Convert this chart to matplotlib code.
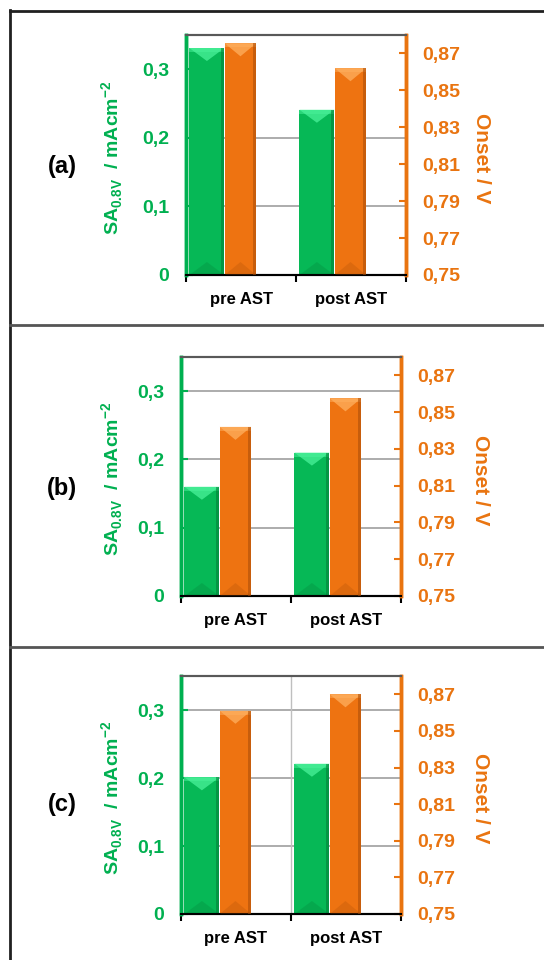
import matplotlib
matplotlib.use("Agg")
import matplotlib.pyplot as plt
from matplotlib.patches import Polygon
from matplotlib.lines import Line2D

plt.rcParams['font.family'] = ['Liberation Sans', 'DejaVu Sans']
plt.rcParams['font.weight'] = 'bold'
plt.rcParams['axes.labelweight'] = 'bold'
plt.rcParams['mathtext.fontset'] = 'custom'
plt.rcParams['mathtext.rm'] = 'Liberation Sans:bold'
plt.rcParams['mathtext.bf'] = 'Liberation Sans:bold'

# data
categories = ['pre AST', 'post AST']
panel_names = ['(a)', '(b)', '(c)']
sa_values = [[0.331, 0.241], [0.160, 0.210], [0.201, 0.221]]      # mA cm-2
onset_values = [[0.8755, 0.862], [0.842, 0.8575], [0.861, 0.870]]  # V
sa_ticks = [0, 0.1, 0.2, 0.3]
sa_ticklabels = ['0', '0,1', '0,2', '0,3']
onset_ticks = [0.75, 0.77, 0.79, 0.81, 0.83, 0.85, 0.87]
onset_ticklabels = ['0,75', '0,77', '0,79', '0,81', '0,83', '0,85', '0,87']
grid_levels = [[0.1, 0.2], [0.1, 0.2, 0.3], [0.1, 0.2, 0.3]]
vgrid = [False, False, True]

GREEN = '#00B050'
ORANGE = '#E97410'
green_bar = ('#06B856', '#4AF29A', '#037A36')
orange_bar = ('#EE7311', '#FFB060', '#A84C08')

W, H = 544, 960
fig = plt.figure(figsize=(W / 100, H / 100), dpi=100)

# panel frames (pixels): left, top, right, bottom of the plot area
frames = [(186, 35, 406, 275), (181, 357, 401, 596), (181, 676, 401, 914)]
label_y = [167, 489, 805]


def bevel(ax, bars, colors, ylim, hpx):
    # fake Excel's bevelled bar look: light chevron at top, dark strip at right
    main, light, dark = colors
    d = 13 * (ylim[1] - ylim[0]) / hpx
    for b in bars:
        x0, y0 = b.get_x(), b.get_y()
        w, h = b.get_width(), b.get_height()
        top = y0 + h
        ax.add_patch(Polygon([(x0, top), (x0 + w, top), (x0 + 0.5 * w, top - d)],
                             closed=True, facecolor=light, edgecolor='none',
                             alpha=0.75, zorder=3))
        ax.add_patch(Polygon([(x0, top), (x0 + w, top), (x0 + w, top - 0.3 * d),
                              (x0, top - 0.3 * d)], closed=True,
                             facecolor=light, edgecolor='none', alpha=0.5, zorder=3))
        ax.add_patch(Polygon([(x0, y0), (x0 + w, y0), (x0 + 0.5 * w, y0 + d)],
                             closed=True, facecolor=dark, edgecolor='none',
                             alpha=0.25, zorder=3))
        ax.add_patch(Polygon([(x0 + 0.9 * w, y0), (x0 + w, y0), (x0 + w, top),
                              (x0 + 0.9 * w, top)], closed=True,
                             facecolor=dark, edgecolor='none', alpha=0.55, zorder=3))


x = [0, 1]
for i, (l, t, r, b) in enumerate(frames):
    ax = fig.add_axes([l / W, 1 - b / H, (r - l) / W, (b - t) / H])
    ax2 = ax.twinx()
    ax.set_xlim(-0.5, 1.5)
    ax.set_ylim(0, 0.35)
    ax2.set_ylim(0.75, 0.88)

    for g in grid_levels[i]:
        ax.axhline(g, color='#A6A6A6', lw=1.3, zorder=0)
    if vgrid[i]:
        ax.axvline(0.5, color='#BFBFBF', lw=1.0, zorder=0)

    gb = ax.bar([xi - 0.31 for xi in x], sa_values[i], width=0.318,
                color=green_bar[0], zorder=2)
    bevel(ax, gb, green_bar, (0, 0.35), b - t)
    ob = ax2.bar([xi - 0.005 for xi in x], [v - 0.75 for v in onset_values[i]],
                 width=0.285, bottom=0.75, color=orange_bar[0], zorder=2)
    bevel(ax2, ob, orange_bar, (0.75, 0.88), b - t)

    ax.set_yticks(sa_ticks)
    ax.set_yticklabels(sa_ticklabels)
    ax.tick_params(axis='y', direction='in', length=5, width=1.5, color=GREEN,
                   labelcolor=GREEN, labelsize=14, pad=12)
    ax2.set_yticks(onset_ticks)
    ax2.set_yticklabels(onset_ticklabels)
    ax2.tick_params(axis='y', direction='in', length=5, width=1.5, color=ORANGE,
                    labelcolor=ORANGE, labelsize=14, pad=12)

    ax.set_xticks([-0.5, 0.5, 1.5])
    ax.set_xticklabels([])
    ax.set_xticks(x, minor=True)
    ax.set_xticklabels(categories, minor=True)
    ax.tick_params(axis='x', which='major', direction='out', length=5, width=1.5, color='black')
    ax.tick_params(axis='x', which='minor', length=0, labelsize=12, pad=12)

    for a in (ax, ax2):
        a.spines['left'].set_color(GREEN)
        a.spines['left'].set_linewidth(2.5)
        a.spines['right'].set_color(ORANGE)
        a.spines['right'].set_linewidth(2.5)
        a.spines['top'].set_color('#595959')
        a.spines['top'].set_linewidth(1.5)
        a.spines['bottom'].set_color('black')
        a.spines['bottom'].set_linewidth(1.5)

    ax.set_ylabel(r'SA$_{\mathbf{0.8V}}$  / mAcm$^{\mathbf{-2}}$', color=GREEN, fontsize=14)
    ax.yaxis.set_label_coords((125 - l) / (r - l), 0.49)
    ax2.set_ylabel('Onset / V', color=ORANGE, fontsize=15, rotation=-90, va='center')
    ax2.yaxis.set_label_coords((481 - l) / (r - l), 0.485)

    fig.text(62 / W, 1 - label_y[i] / H, panel_names[i], fontsize=17,
             ha='center', va='center', color='black')

# outer frame and panel separators
fig.add_artist(Line2D([10 / W, 10 / W], [0, 1 - 10 / H], color='#202020', lw=2))
fig.add_artist(Line2D([10 / W, 1], [1 - 11 / H, 1 - 11 / H], color='#202020', lw=2))
for yy in (325, 647):
    fig.add_artist(Line2D([10 / W, 1], [1 - yy / H, 1 - yy / H], color='#555555', lw=2))

fig.savefig('out.png', dpi=100, facecolor='white')
